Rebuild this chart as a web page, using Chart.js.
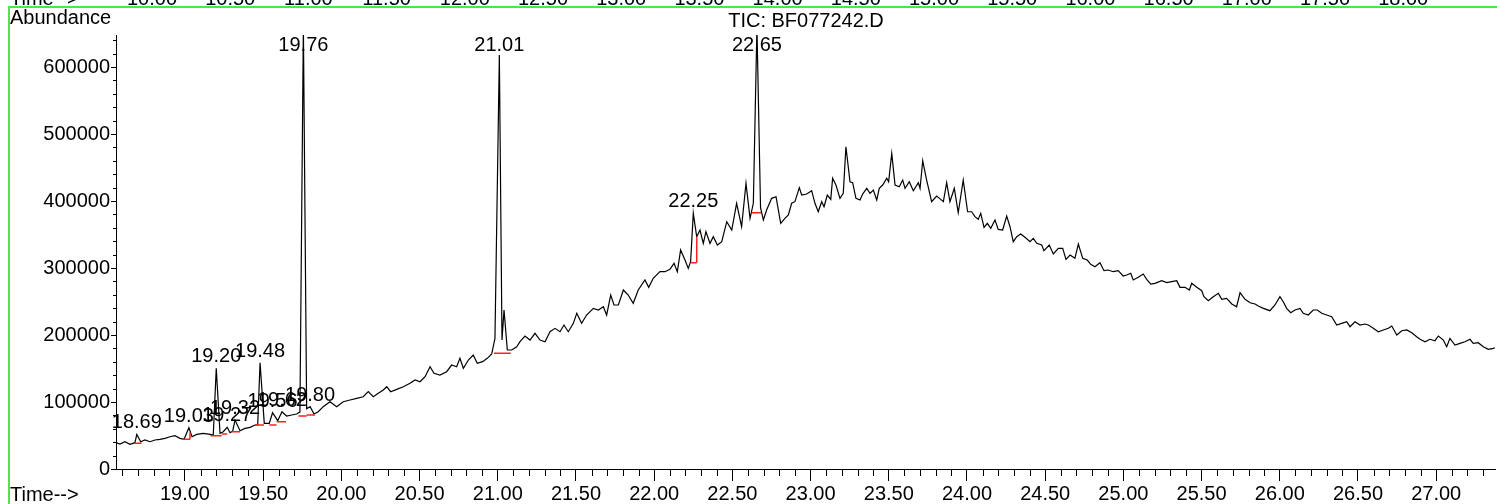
<!DOCTYPE html>
<html>
<head>
<meta charset="utf-8">
<script src="https://cdn.jsdelivr.net/npm/chart.js@4.4.1/dist/chart.umd.min.js"></script>
<style>
    html, body { margin: 0; padding: 0; background: #fff; }
    #wrap { width: 1497px; height: 504px; }
</style>
</head>
<body>
<div id="wrap"><canvas id="tic" width="1497" height="504"></canvas></div>
<script>
const FONT = 'Arial, "Liberation Sans", sans-serif';

// axis ticks
const timeTicks = [19.00, 19.50, 20.00, 20.50, 21.00, 21.50, 22.00, 22.50, 23.00,
    23.50, 24.00, 24.50, 25.00, 25.50, 26.00, 26.50, 27.00];
const abundanceTicks = [0, 100000, 200000, 300000, 400000, 500000, 600000];
// cut-off time axis of the panel above
const prevPanelTicks = ['10.00', '10.50', '11.00', '11.50', '12.00', '12.50', '13.00', '13.50',
    '14.00', '14.50', '15.00', '15.50', '16.00', '16.50', '17.00', '17.50', '18.00'];

// TIC trace [time (min), abundance]
const ticTrace = [
    [18.559, 39300], [18.584, 37300], [18.616, 40700], [18.648, 36800], [18.680, 39300],
    [18.692, 51700], [18.717, 40700], [18.744, 43300], [18.776, 40700], [18.808, 43300],
    [18.840, 44300], [18.872, 45800], [18.904, 48200], [18.936, 49700], [18.968, 45800],
    [18.994, 44300], [19.025, 61600], [19.045, 48200], [19.075, 51700], [19.117, 53300],
    [19.160, 51700], [19.181, 50700], [19.200, 150300], [19.224, 53300], [19.245, 55700],
    [19.270, 62200], [19.288, 54200], [19.305, 56700], [19.320, 73100], [19.352, 57200],
    [19.384, 60700], [19.416, 62200], [19.448, 65700], [19.465, 65700], [19.480, 158700],
    [19.507, 68200], [19.539, 68200], [19.560, 84000], [19.593, 72100], [19.620, 85500],
    [19.650, 79100], [19.682, 80600], [19.714, 82100], [19.735, 85000], [19.757, 660000],
    [19.778, 90000], [19.800, 93000], [19.825, 82100], [19.852, 85500], [19.884, 93000],
    [19.927, 100400], [19.970, 93000], [20.012, 100400], [20.055, 103000], [20.098, 105500],
    [20.140, 107900], [20.172, 115400], [20.204, 107900], [20.236, 113000], [20.268, 117900],
    [20.290, 122800], [20.315, 115400], [20.354, 118900], [20.396, 122800], [20.439, 127900],
    [20.471, 132800], [20.503, 130300], [20.535, 137800], [20.567, 152700], [20.592, 142800],
    [20.630, 140300], [20.673, 145200], [20.705, 155200], [20.737, 152700], [20.758, 165200],
    [20.780, 150300], [20.812, 162700], [20.843, 170100], [20.869, 157700], [20.903, 160200],
    [20.933, 165200], [20.961, 171600], [20.982, 195000], [21.010, 618000], [21.027, 192500],
    [21.040, 237300], [21.061, 177600], [21.089, 177600], [21.121, 182500], [21.142, 190000],
    [21.174, 198500], [21.206, 192500], [21.238, 202500], [21.270, 192500], [21.302, 190000],
    [21.334, 204900], [21.366, 209900], [21.398, 204900], [21.423, 214900], [21.451, 204900],
    [21.483, 217400], [21.505, 232400], [21.536, 217400], [21.568, 229800], [21.611, 239800],
    [21.643, 237300], [21.675, 242200], [21.696, 229800], [21.722, 259700], [21.743, 244800],
    [21.771, 244800], [21.803, 267200], [21.834, 259700], [21.866, 247300], [21.898, 267200],
    [21.941, 282100], [21.965, 271200], [21.994, 284600], [22.037, 294500], [22.069, 294500],
    [22.101, 298000], [22.127, 307000], [22.148, 294500], [22.169, 326900], [22.197, 311900],
    [22.218, 299500], [22.233, 309400], [22.250, 381600], [22.272, 346700], [22.293, 356700],
    [22.314, 336800], [22.331, 354200], [22.357, 336800], [22.378, 346700], [22.404, 334300],
    [22.432, 339300], [22.464, 369100], [22.496, 356700], [22.527, 396600], [22.559, 361600],
    [22.587, 426400], [22.613, 374200], [22.634, 396600], [22.657, 660000], [22.680, 390000],
    [22.698, 371600], [22.719, 386600], [22.751, 404000], [22.779, 406400], [22.809, 366700],
    [22.836, 374200], [22.858, 379100], [22.879, 396600], [22.900, 399000], [22.928, 419900],
    [22.943, 408900], [22.975, 410400], [23.007, 415400], [23.028, 396600], [23.049, 384000],
    [23.071, 399000], [23.086, 391500], [23.107, 408900], [23.129, 402500], [23.141, 433900],
    [23.162, 423900], [23.188, 404000], [23.209, 411500], [23.226, 481000], [23.252, 428800],
    [23.269, 427300], [23.290, 404000], [23.316, 401500], [23.333, 410400], [23.359, 418900],
    [23.380, 411500], [23.401, 416400], [23.423, 401500], [23.439, 418900], [23.461, 423900],
    [23.487, 433900], [23.499, 428800], [23.519, 471200], [23.540, 423900], [23.567, 421300],
    [23.589, 431300], [23.604, 418900], [23.631, 428800], [23.657, 415400], [23.689, 427300],
    [23.700, 418900], [23.717, 460100], [23.742, 431300], [23.774, 399000], [23.806, 407500],
    [23.832, 402500], [23.849, 399000], [23.870, 427300], [23.891, 399000], [23.919, 418900],
    [23.944, 382500], [23.976, 431300], [24.004, 384000], [24.030, 384000], [24.051, 376600],
    [24.072, 372700], [24.088, 381600], [24.109, 360700], [24.130, 366700], [24.152, 359200],
    [24.179, 371600], [24.200, 357700], [24.228, 356700], [24.254, 377600], [24.275, 361600],
    [24.296, 339300], [24.318, 346700], [24.343, 350700], [24.371, 345800], [24.403, 339300],
    [24.424, 344300], [24.446, 336800], [24.478, 334300], [24.492, 325800], [24.526, 334300],
    [24.552, 320900], [24.584, 329400], [24.612, 329400], [24.633, 313000], [24.659, 319400],
    [24.690, 314400], [24.712, 335800], [24.740, 314400], [24.769, 311900], [24.791, 305500],
    [24.818, 302000], [24.850, 307900], [24.876, 296000], [24.903, 297000], [24.935, 294500],
    [24.967, 296000], [24.999, 288100], [25.021, 289500], [25.047, 292100], [25.063, 282100],
    [25.095, 286100], [25.127, 291000], [25.149, 283100], [25.175, 276100], [25.202, 277100],
    [25.245, 281000], [25.277, 278100], [25.309, 279600], [25.341, 281000], [25.362, 271200],
    [25.394, 271200], [25.422, 267200], [25.437, 277100], [25.469, 271200], [25.501, 266100],
    [25.515, 257200], [25.543, 251200], [25.575, 257200], [25.607, 262200], [25.629, 253300],
    [25.660, 254800], [25.693, 246300], [25.724, 242200], [25.746, 263100], [25.778, 253300],
    [25.810, 248200], [25.842, 246300], [25.863, 243300], [25.895, 239800], [25.937, 236300],
    [25.969, 244800], [26.001, 257200], [26.022, 249700], [26.044, 239800], [26.070, 233300],
    [26.097, 237300], [26.129, 239800], [26.150, 232400], [26.182, 229800], [26.214, 237300],
    [26.240, 237300], [26.268, 232400], [26.300, 229800], [26.332, 227300], [26.364, 214900],
    [26.396, 217400], [26.428, 219800], [26.449, 212400], [26.481, 219800], [26.513, 214900],
    [26.545, 216400], [26.566, 214900], [26.598, 210000], [26.630, 204900], [26.662, 207500],
    [26.694, 210000], [26.716, 213400], [26.748, 200000], [26.780, 206400], [26.812, 207500],
    [26.844, 203400], [26.875, 197500], [26.897, 193600], [26.929, 190000], [26.960, 193600],
    [26.992, 191500], [27.014, 198500], [27.046, 192500], [27.067, 182500], [27.088, 195000],
    [27.120, 185100], [27.152, 187600], [27.184, 190000], [27.216, 193600], [27.237, 187600],
    [27.269, 188500], [27.301, 182500], [27.333, 178600], [27.365, 180100], [27.376, 181000]
];

// integrated peaks
const peakTimes = [18.69, 19.03, 19.20, 19.27, 19.32, 19.48, 19.56, 19.62, 19.76, 19.80, 21.01, 22.25, 22.65];
const peakLabels = ['18.69', '19.03', '19.20', '19.27', '19.32', '19.48', '19.56', '19.62', '19.76', '19.80', '21.01', '22.25', '22.65'];

// integration baselines [t1, a1, t2, a2]
const baselines = [
    [18.680, 38400, 18.722, 38400],
    [18.989, 44300, 19.032, 44300], [19.032, 44300, 19.032, 55000],
    [19.164, 49700, 19.235, 49700],
    [19.235, 52200, 19.270, 52200],
    [19.298, 55700, 19.352, 55700],
    [19.448, 65700, 19.505, 65700],
    [19.539, 65700, 19.586, 65700],
    [19.586, 70600, 19.646, 70600],
    [19.725, 79100, 19.778, 79100],
    [19.778, 80600, 19.831, 80600],
    [20.976, 172700, 21.083, 172700],
    [22.233, 307900, 22.272, 307900], [22.272, 307900, 22.272, 346700],
    [22.623, 382500, 22.683, 382500]
];

const traceData = ticTrace.map(p => ({x: p[0], y: p[1]}));
const baseData = [];
baselines.forEach(s => {
    baseData.push({x: s[0], y: s[1]}, {x: s[2], y: s[3]}, {x: s[2], y: null});
});

const chromPlugin = {
    id: 'chrom',
    beforeDraw(chart) {
        const c = chart.ctx;
        c.save();
        c.fillStyle = '#fff';
        c.fillRect(0, 0, chart.width, chart.height);
        c.fillStyle = '#000';
        c.font = '20px ' + FONT;
        // bits of the panel above, cut by the frame
        c.textBaseline = 'alphabetic';
        c.textAlign = 'left';
        c.fillText('Time-->', 10, 5);
        c.textAlign = 'center';
        prevPanelTicks.forEach((lab, i) => c.fillText(lab, 152 + i * 78.2, 5));
        // green frame
        c.strokeStyle = '#4ee44e';
        c.lineWidth = 2;
        c.beginPath();
        c.moveTo(8, 7); c.lineTo(chart.width, 7);
        c.moveTo(9, 6); c.lineTo(9, chart.height);
        c.stroke();
        // texts
        c.textBaseline = 'middle';
        c.textAlign = 'left';
        c.fillText('Abundance', 10, 18);
        c.fillText('Time-->', 10, 495);
        c.textAlign = 'center';
        c.fillText('TIC: BF077242.D', 806, 21);
        c.restore();
    },
    afterDraw(chart) {
        const c = chart.ctx;
        const xs = chart.scales.x, ys = chart.scales.y;
        c.save();
        c.strokeStyle = '#000';
        c.lineWidth = 1;
        c.beginPath();
        // minor time ticks every 0.1 min
        for (let i = 186; i <= 273; i++) {
            if (i % 5 === 0) continue;
            const px = Math.round(xs.getPixelForValue(i / 10)) + 0.5;
            c.moveTo(px, xs.top); c.lineTo(px, xs.top + 7);
        }
        // minor abundance ticks every 20000
        for (let v = 20000; v < ys.max; v += 20000) {
            if (v % 100000 === 0) continue;
            const py = Math.round(ys.getPixelForValue(v)) + 0.5;
            c.moveTo(ys.right, py); c.lineTo(ys.right - 3, py);
        }
        c.stroke();
        // peak labels
        c.fillStyle = '#000';
        c.font = '20px ' + FONT;
        c.textAlign = 'center';
        c.textBaseline = 'alphabetic';
        peakTimes.forEach((t, i) => {
            let apex = null;
            ticTrace.forEach(p => {
                if (Math.abs(p[0] - t) <= 0.012 && (!apex || p[1] > apex[1])) apex = p;
            });
            const px = xs.getPixelForValue(apex[0]);
            const py = ys.getPixelForValue(Math.min(apex[1], ys.max));
            c.fillText(peakLabels[i], px, Math.max(py - 6, 51));
        });
        c.restore();
    }
};

new Chart(document.getElementById('tic'), {
    type: 'line',
    data: {
        datasets: [
            {
                label: 'baseline',
                data: baseData,
                borderColor: '#ff2020',
                borderWidth: 1.5,
                pointRadius: 0,
                spanGaps: false,
                order: 0
            },
            {
                label: 'TIC',
                data: traceData,
                borderColor: '#000',
                borderWidth: 1.2,
                pointRadius: 0,
                tension: 0,
                order: 1
            }
        ]
    },
    options: {
        responsive: false,
        animation: false,
        layout: { padding: { top: 35, right: 2, left: 0, bottom: 0 } },
        plugins: { legend: { display: false }, tooltip: { enabled: false } },
        scales: {
            x: {
                type: 'linear',
                min: 18.559,
                max: 27.376,
                afterBuildTicks: s => { s.ticks = timeTicks.map(v => ({value: v})); },
                afterFit: s => { s.height = 35; },
                grid: { display: true, drawOnChartArea: false, drawTicks: true, tickLength: 12, color: '#000' },
                border: { display: true, color: '#000', width: 1 },
                ticks: {
                    autoSkip: false, maxRotation: 0, padding: 1, color: '#000',
                    font: { family: FONT, size: 20 },
                    callback: v => Number(v).toFixed(2)
                }
            },
            y: {
                min: 0,
                max: 647800,
                afterBuildTicks: s => { s.ticks = abundanceTicks.map(v => ({value: v})); },
                afterFit: s => { s.width = 116; },
                grid: { display: true, drawOnChartArea: false, drawTicks: true, tickLength: 5, color: '#000' },
                border: { display: true, color: '#000', width: 1 },
                ticks: {
                    padding: 1, color: '#000',
                    font: { family: FONT, size: 20 },
                    callback: v => String(v)
                }
            }
        }
    },
    plugins: [chromPlugin]
});
</script>
</body>
</html>
